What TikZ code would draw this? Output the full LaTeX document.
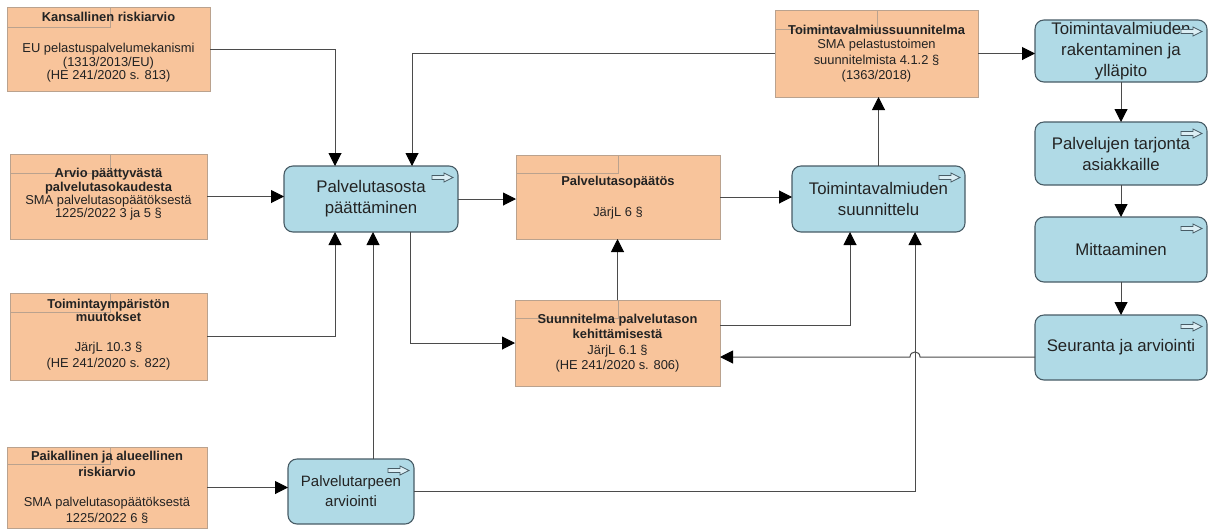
\documentclass[tikz,border=0pt]{standalone}
\usepackage{fontspec}
\setmainfont{Liberation Sans}
\usetikzlibrary{arrows.meta,calc}
\definecolor{ofill}{RGB}{248,196,155}
\definecolor{oborder}{RGB}{186,162,142}
\definecolor{bfill}{RGB}{176,218,230}
\definecolor{bborder}{RGB}{72,92,102}
\definecolor{lc}{RGB}{75,75,75}
\definecolor{txt}{RGB}{35,35,35}
\newcommand\ofnt{\fontsize{12.9}{13.5}\selectfont}
\newcommand\ofntb{\fontsize{12.9}{15.5}\selectfont}
\newcommand\bfnt{\fontsize{16.8}{21}\selectfont}
\newcommand\bicon[1]{\draw[bborder,line width=0.8pt,fill=white!55!bfill,line join=miter] ([xshift=-26pt,yshift=-11.5pt]#1.north east) ++(0,-2) -- ++(12,0) -- ++(0,-2.5) -- ++(9,4.5) -- ++(-9,4.5) -- ++(0,-2.5) -- ++(-12,0) -- cycle;}
\begin{document}
\begin{tikzpicture}[x=1pt,y=-1pt,
  obox/.style={draw=oborder,fill=ofill,line width=0.9pt,inner sep=0pt,outer sep=0pt},
  bbox/.style={draw=bborder,fill=bfill,line width=1.1pt,rounded corners=9pt,inner sep=0pt,outer sep=0pt,align=center,font=\bfnt,text=txt},
  ttl/.style={font=\bfseries\ofnt,align=center,text=txt,inner sep=0pt},
  bdy/.style={font=\ofnt,align=center,text=txt,inner sep=0pt},
  bdyw/.style={font=\ofntb,align=center,text=txt,inner sep=0pt},
  strip/.style={draw=oborder,line width=0.7pt},
  con/.style={draw=lc,line width=1pt,-{Triangle[length=13pt,width=13pt,color=black]}},
  plain/.style={draw=lc,line width=1pt}]
\useasboundingbox[fill=white] (0,0) rectangle (1217,531);

% orange boxes
\node[obox,minimum width=203,minimum height=84] (O1) at (108.5,49) {};
\node[obox,minimum width=197,minimum height=85] (O2) at (108.5,196.5) {};
\node[obox,minimum width=197,minimum height=87] (O3) at (108.5,336.5) {};
\node[obox,minimum width=200,minimum height=81] (O4) at (107,487.5) {};
\node[obox,minimum width=204,minimum height=84] (PP) at (618,197) {};
\node[obox,minimum width=205,minimum height=86] (SU) at (617.5,343) {};
\node[obox,minimum width=203,minimum height=87] (TV) at (876.5,53.5) {};

% title strips
\draw[strip] (7,27) -| (110,7);
\draw[strip] (10,173) -| (110,154);
\draw[strip] (10,312) -| (110,293);
\draw[strip] (7,464) -| (110,447);
\draw[strip] (516,173) -| (618,155);
\draw[strip] (515,318) -| (618,300);
\draw[strip] (775,29) -| (877,10);

% orange texts
\node[ttl] (O1t) at (108.5,17) {Kansallinen riskiarvio};
\node[bdy] (O1b) at (108.5,63) {EU pelastuspalvelumekanismi\\(1313/2013/EU)\\(HE 241/2020 s. 813)};
\node[ttl] (O2t) at (108.5,181) {Arvio päättyvästä\\palvelutasokaudesta};
\node[bdy] (O2b) at (108.5,207.5) {SMA palvelutasopäätöksestä\\1225/2022 3 ja 5 §};
\node[ttl] (O3t) at (108.5,310.5) {Toimintaympäristön\\muutokset};
\node[bdyw] (O3b) at (108.5,356) {JärjL 10.3 §\\(HE 241/2020 s. 822)};
\node[ttl,font=\bfseries\ofntb] (O4t) at (107,464) {Paikallinen ja alueellinen\\riskiarvio};
\node[bdyw] (O4b) at (107,510.5) {SMA palvelutasopäätöksestä\\1225/2022 6 §};
\node[ttl] (PPt) at (618,182) {Palvelutasopäätös};
\node[bdy] (PPb) at (618,213) {JärjL 6 §};
\node[ttl,font=\bfseries\ofntb] (SUt) at (617.5,326.5) {Suunnitelma palvelutason\\kehittämisestä};
\node[bdyw] (SUb) at (617.5,358.5) {JärjL 6.1 §\\(HE 241/2020 s. 806)};
\node[ttl] (TVt) at (876.5,30) {Toimintavalmiussuunnitelma};
\node[bdyw] (TVb) at (876.5,61) {SMA pelastustoimen\\suunnitelmista 4.1.2 §\\(1363/2018)};

% blue boxes
\node[bbox,minimum width=174,minimum height=66] (B1) at (371,199) {Palvelutasosta\\päättäminen};
\node[bbox,minimum width=173,minimum height=66] (B2) at (878.5,199) {Toimintavalmiuden\\suunnittelu};
\node[bbox,minimum width=126,minimum height=65,font=\fontsize{15}{20}\selectfont] (B3) at (351,491.5) {Palvelutarpeen\\arviointi};
\node[bbox,minimum width=172,minimum height=62] (R1) at (1121,51) {Toimintavalmiuden\\rakentaminen ja\\ylläpito};
\node[bbox,minimum width=172,minimum height=63] (R2) at (1121,153.5) {Palvelujen tarjonta\\asiakkaille};
\node[bbox,minimum width=172,minimum height=65] (R3) at (1121,249.5) {Mittaaminen};
\node[bbox,minimum width=172,minimum height=65] (R4) at (1121,347.5) {Seuranta ja arviointi};
\foreach \n in {B1,B2,B3,R1,R2,R3,R4} {\bicon{\n}}

% connectors
\draw[con] (O1.east) -| ([xshift=-36pt]B1.north);
\draw[con] (O2.east) -- (O2.east -| B1.west);
\draw[con] (O3.east) -| ([xshift=-36pt]B1.south);
\draw[con] ([xshift=22pt]B3.north) -- ([xshift=22pt]B3.north |- B1.south);
\draw[con] (O4.east) -- (O4.east -| B3.west);
\draw[con] (B1.east) -- (B1.east -| PP.west);
\draw[con] ([xshift=39pt]B1.south) |- (SU.west);
\draw[con] (SU.north) -- (SU.north |- PP.south);
\draw[con] (PP.east) -- (PP.east -| B2.west);
\draw[con] ([yshift=18pt]SU.east) -| ([xshift=-28.5pt]B2.south);
\draw[con] (B3.east) -| ([xshift=36.5pt]B2.south);
\path ([xshift=36.5pt]B2.south) coordinate (vx);
\path ([yshift=-14pt]SU.east) coordinate (se);
\coordinate (hop) at (vx |- se);
\draw[con] ([yshift=-9.5pt]R4.west) -- ([xshift=5pt]hop) .. controls ([xshift=5pt,yshift=6.7pt]hop) and ([xshift=-5pt,yshift=6.7pt]hop) .. ([xshift=-5pt]hop) -- (se);
\draw[con] (B2.north) -- (B2.north |- TV.south);
\draw[con] (TV.east) -- (TV.east -| R1.west);
\draw[con] (TV.west) -| ([xshift=41pt]B1.north);
\draw[con] (R1.south) -- (R2.north);
\draw[con] (R2.south) -- (R3.north);
\draw[con] (R3.south) -- (R4.north);
\end{tikzpicture}
\end{document}
